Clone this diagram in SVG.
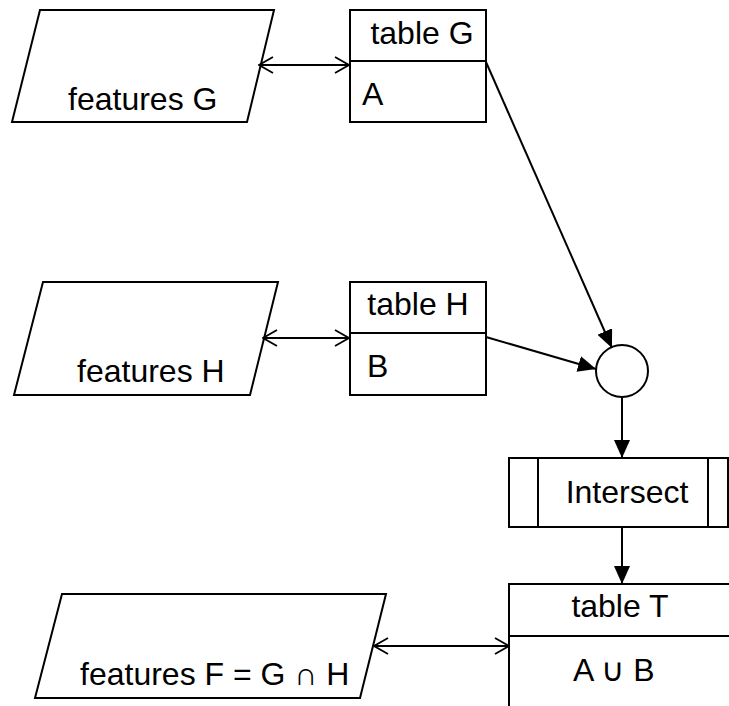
<svg xmlns="http://www.w3.org/2000/svg" width="729" height="706" viewBox="0 0 729 706">
<style>
.s{fill:#fff;stroke:#000;stroke-width:2}
.l{fill:none;stroke:#000;stroke-width:2}
.t{font-family:"Liberation Sans",Arial,sans-serif;font-size:32px;fill:#000}
.c{text-anchor:middle}
</style>
<defs>
<marker id="open" viewBox="0 0 16 18" refX="15" refY="9" markerWidth="16" markerHeight="18" markerUnits="userSpaceOnUse" orient="auto-start-reverse">
<path d="M1,1 L15,9 L1,17" fill="none" stroke="#000" stroke-width="1.8"/>
</marker>
<marker id="fill" viewBox="0 0 18 16" refX="18" refY="8" markerWidth="18" markerHeight="16" markerUnits="userSpaceOnUse" orient="auto">
<path d="M0,0 L18,8 L0,16 Z" fill="#000"/>
</marker>
</defs>
<rect width="729" height="706" fill="#fff"/>
<g id="featuresG">
<polygon class="s" points="40,10 274,10 247,122 12,122"/>
<text class="t" x="68" y="110">features G</text>
</g>
<g id="tableG">
<rect class="s" x="350" y="10" width="136" height="112"/>
<line class="l" x1="350" y1="61" x2="486" y2="61"/>
<text class="t c" x="422" y="44">table G</text>
<text class="t" x="362" y="105">A</text>
</g>
<g id="featuresH">
<polygon class="s" points="43,282 278,282 250,395 14,395"/>
<text class="t" x="77" y="382">features H</text>
</g>
<g id="tableH">
<rect class="s" x="350" y="282" width="136" height="113"/>
<line class="l" x1="350" y1="333" x2="486" y2="333"/>
<text class="t c" x="418" y="315">table H</text>
<text class="t" x="367" y="377">B</text>
</g>
<g id="join">
<circle class="s" cx="622" cy="371" r="26"/>
</g>
<g id="intersect">
<rect class="s" x="509" y="458" width="219" height="69"/>
<line class="l" x1="538" y1="458" x2="538" y2="527"/>
<line class="l" x1="708" y1="458" x2="708" y2="527"/>
<text class="t c" x="627" y="503">Intersect</text>
</g>
<g id="tableT">
<rect class="s" x="509" y="584" width="240" height="140"/>
<line class="l" x1="509" y1="636" x2="729" y2="636"/>
<text class="t c" x="620" y="617">table T</text>
<text class="t" x="573" y="681">A ∪ B</text>
</g>
<g id="featuresF">
<polygon class="s" points="62,594 386,594 360,698 35,698"/>
<text class="t" x="80" y="685">features F = G ∩ H</text>
</g>
<g id="connectors">
<line class="l" x1="259" y1="65" x2="349" y2="65" marker-start="url(#open)" marker-end="url(#open)"/>
<line class="l" x1="263" y1="338" x2="349" y2="338" marker-start="url(#open)" marker-end="url(#open)"/>
<line class="l" x1="374" y1="646" x2="509" y2="646" marker-start="url(#open)" marker-end="url(#open)"/>
<line class="l" x1="486" y1="62" x2="612" y2="348" marker-end="url(#fill)"/>
<line class="l" x1="486" y1="337" x2="596" y2="369" marker-end="url(#fill)"/>
<line class="l" x1="622" y1="397" x2="622" y2="458" marker-end="url(#fill)"/>
<line class="l" x1="622" y1="527" x2="622" y2="584" marker-end="url(#fill)"/>
</g>
</svg>
